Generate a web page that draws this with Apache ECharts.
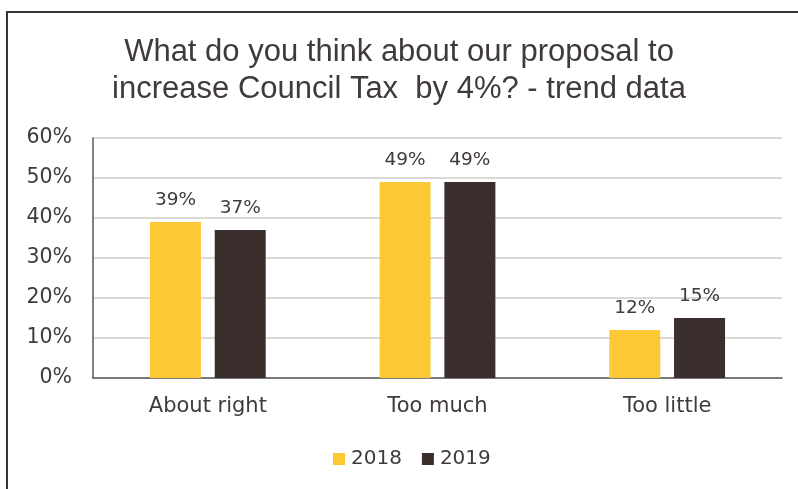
<!DOCTYPE html>
<html>
<head>
<meta charset="utf-8">
<script src="https://cdn.jsdelivr.net/npm/echarts@6/dist/echarts.min.js"></script>
<style>
  html, body { margin: 0; padding: 0; background: #fff; }
  #chart { width: 798px; height: 489px; }
</style>
</head>
<body>
<div id="chart"></div>
<script>
// Survey answers by year
const categories = ['About right', 'Too much', 'Too little'];
const values2018 = [39, 49, 12];
const values2019 = [37, 49, 15];
const seriesNames = ['2018', '2019'];
const titleLines = ['What do you think about our proposal to', 'increase Council Tax  by 4%? - trend data'];

const textColor = '#403b39';
const titleFont = '"Liberation Sans", Arial, sans-serif';
const bodyFont = '"DejaVu Sans", Verdana, sans-serif';

const chart = echarts.init(document.getElementById('chart'), null, { renderer: 'canvas' });

const labelCfg = {
  show: true,
  position: 'top',
  distance: 12,
  color: textColor,
  fontSize: 18.5,
  fontFamily: bodyFont,
  formatter: p => p.value + '%'
};

chart.setOption({
  animation: false,
  backgroundColor: '#ffffff',
  title: {
    text: titleLines.join('\n'),
    left: 'center',
    top: 29,
    textStyle: {
      color: textColor,
      fontSize: 31,
      fontWeight: 'normal',
      fontFamily: titleFont,
      lineHeight: 37
    }
  },
  graphic: [{
    type: 'polyline',
    shape: { points: [[7, 489], [7, 12], [798, 12]] },
    style: { stroke: '#3a3533', lineWidth: 2, fill: null }
  }],
  legend: {
    data: seriesNames,
    top: 444,
    left: 328,
    itemWidth: 12,
    itemHeight: 12,
    itemGap: 20,
    icon: 'rect',
    textStyle: { color: textColor, fontSize: 20, fontFamily: bodyFont, padding: [0, 0, 0, 1] }
  },
  grid: { left: 93, right: 16, top: 138, bottom: 111 },
  xAxis: {
    type: 'category',
    data: categories,
    axisLine: { lineStyle: { color: '#595959', width: 1.5 } },
    axisTick: { show: false },
    axisLabel: { color: textColor, fontSize: 21, fontFamily: bodyFont, margin: 18 }
  },
  yAxis: {
    type: 'value',
    min: 0,
    max: 60,
    interval: 10,
    axisLine: { show: true, lineStyle: { color: '#595959', width: 1.5 } },
    axisTick: { show: false },
    splitLine: { lineStyle: { color: '#dcd8d6', width: 2 } },
    axisLabel: { color: textColor, fontSize: 20.5, fontFamily: bodyFont, margin: 21, formatter: '{value}%' }
  },
  series: [
    {
      name: seriesNames[0],
      type: 'bar',
      data: values2018,
      barWidth: 51,
      barGap: '27%',
      itemStyle: { color: '#fdc835' },
      label: labelCfg
    },
    {
      name: seriesNames[1],
      type: 'bar',
      data: values2019,
      barWidth: 51,
      barGap: '27%',
      itemStyle: { color: '#3a2f2c' },
      label: labelCfg
    }
  ]
});
</script>
</body>
</html>
